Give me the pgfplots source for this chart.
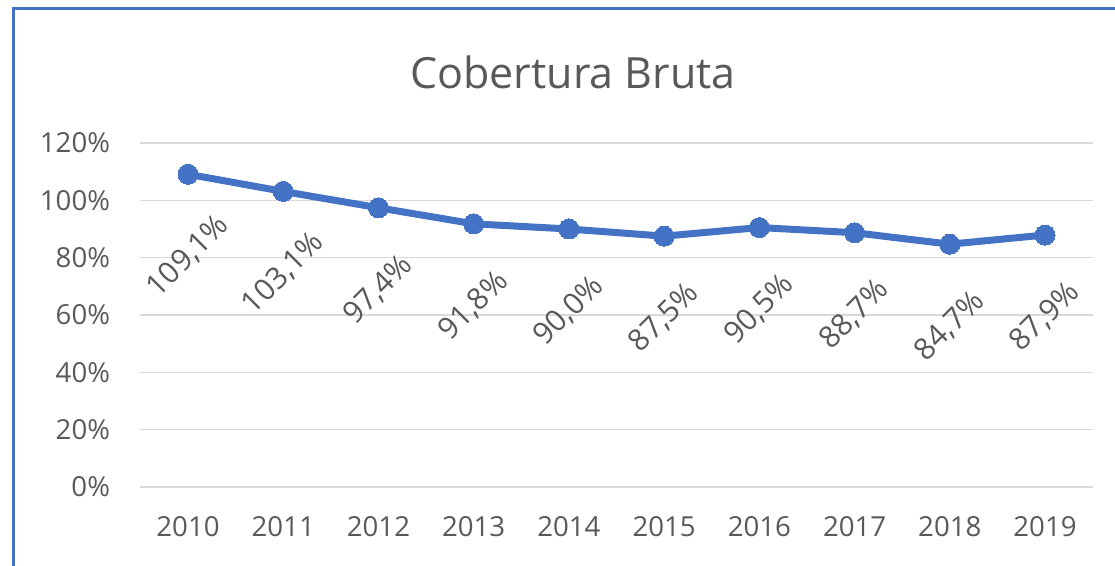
\documentclass[border=0pt]{standalone}
\usepackage{fontspec}
\setmainfont{Open Sans}
\usepackage{pgfplots}
\pgfplotsset{compat=1.18}
\definecolor{xlblue}{HTML}{4472C4}
\definecolor{txtgray}{HTML}{595959}
\definecolor{gridgray}{HTML}{D9D9D9}
\begin{document}
\begin{tikzpicture}
\useasboundingbox (0,0) rectangle (557.5pt,283pt);
\draw[xlblue, line width=1.5pt] (6.5pt,0) -- (6.5pt,278.5pt) -- (560pt,278.5pt);
\node[txtgray, font=\fontsize{21.5}{24}\selectfont] at (286.5pt,247pt) {Cobertura Bruta};
\begin{axis}[
    at={(70.2pt,39.5pt)}, anchor=south west,
    scale only axis,
    width=476.1pt, height=172pt,
    xmin=-0.5, xmax=9.5,
    ymin=0, ymax=120,
    xtick={0,...,9},
    xticklabels={2010,2011,2012,2013,2014,2015,2016,2017,2018,2019},
    ytick={0,20,...,120},
    yticklabel={\pgfmathprintnumber{\tick}\%},
    /pgf/number format/assume math mode=true,
    axis line style={draw=none},
    tick style={draw=none},
    ymajorgrids,
    major grid style={gridgray, line width=0.75pt},
    ticklabel style={txtgray, font=\fontsize{13.8}{16}\selectfont},
    xticklabel style={anchor=center, yshift=-20pt},
    yticklabel style={anchor=east, inner sep=0pt, xshift=-15pt},
    nodes near coords={\pgfmathprintnumber[fixed, fixed zerofill, precision=1, use comma]{\pgfplotspointmeta}\%},
    nodes near coords style={txtgray, font=\fontsize{15}{17}\selectfont, anchor=center, yshift=-41pt, rotate=45},
]
\addplot[xlblue, line width=3.5pt, mark=*, mark size=5pt, mark options={fill=xlblue, draw=xlblue, line width=0pt}] coordinates {
    (0,109.1) (1,103.1) (2,97.4) (3,91.8) (4,90.0)
    (5,87.5) (6,90.5) (7,88.7) (8,84.7) (9,87.9)
};
\end{axis}
\end{tikzpicture}
\end{document}
